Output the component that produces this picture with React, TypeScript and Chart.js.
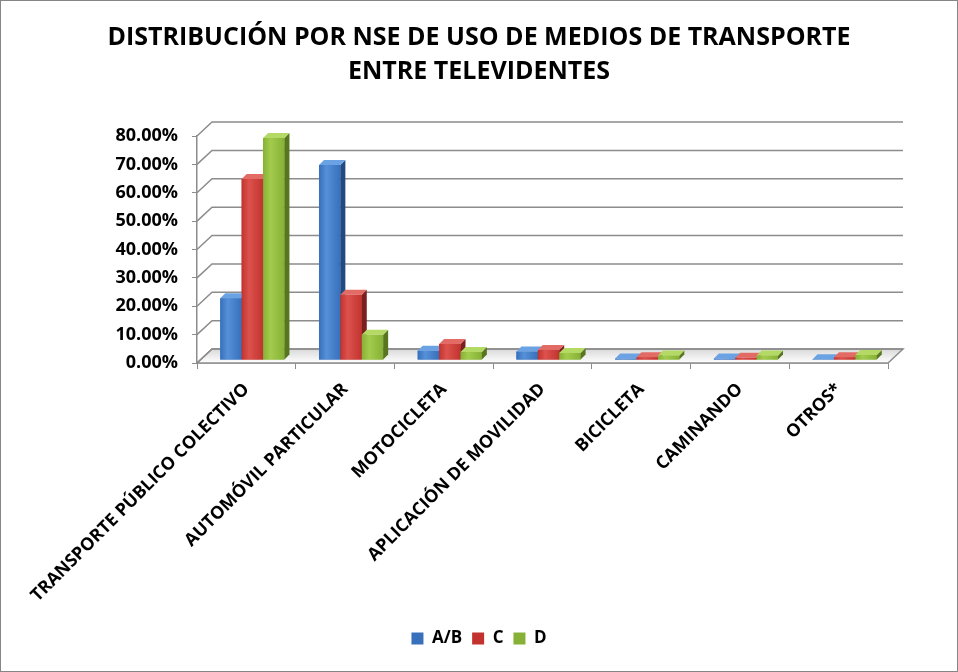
import React, { useEffect, useRef } from 'react';
import Chart from 'chart.js/auto';

const categories = [
  'TRANSPORTE PÚBLICO COLECTIVO',
  'AUTOMÓVIL PARTICULAR',
  'MOTOCICLETA',
  'APLICACIÓN DE MOVILIDAD',
  'BICICLETA',
  'CAMINANDO',
  'OTROS*',
];

const seriesNames = ['A/B', 'C', 'D'];
const valuesAB = [21.8, 68.7, 3.3, 3.0, 0.5, 0.5, 0.3];
const valuesC = [63.8, 23.0, 5.6, 3.5, 1.0, 0.8, 1.0];
const valuesD = [78.2, 8.9, 2.8, 2.5, 1.6, 1.6, 1.8];
const yTicks = [0, 10, 20, 30, 40, 50, 60, 70, 80];

// front, light, dark side, top cap
const palette = [
  { base: '#3870bb', light: '#5590d8', side: '#234a80', top: '#6aa2e4' },
  { base: '#c2332f', light: '#dc524d', side: '#7a1e1e', top: '#e36b66' },
  { base: '#86b136', light: '#a3cc4d', side: '#58761f', top: '#b4d964' },
];

const WALL_DX = 15;
const WALL_DY = 14;
const BAR_SHIFT_X = 6;
const BAR_SHIFT_Y = -3;
const BAR_D = 5;

const wallPlugin = {
  id: 'wall3d',
  beforeDatasetsDraw(chart: any) {
    const { ctx, chartArea, scales } = chart;
    const y = scales.y;
    const { left, right, bottom } = chartArea;
    ctx.save();
    // floor
    const grad = ctx.createLinearGradient(0, bottom - WALL_DY, 0, bottom);
    grad.addColorStop(0, '#d9d9d9');
    grad.addColorStop(1, '#ffffff');
    ctx.beginPath();
    ctx.moveTo(left, bottom);
    ctx.lineTo(right, bottom);
    ctx.lineTo(right + WALL_DX, bottom - WALL_DY);
    ctx.lineTo(left + WALL_DX, bottom - WALL_DY);
    ctx.closePath();
    ctx.fillStyle = grad;
    ctx.fill();
    ctx.strokeStyle = '#8c8c8c';
    ctx.lineWidth = 1.5;
    ctx.stroke();
    // gridlines on side wall and back wall
    yTicks.forEach((v) => {
      const py = y.getPixelForValue(v);
      ctx.beginPath();
      ctx.moveTo(left, py);
      ctx.lineTo(left + WALL_DX, py - WALL_DY);
      ctx.lineTo(right + WALL_DX, py - WALL_DY);
      ctx.stroke();
    });
    ctx.restore();
    ctx.save();
    ctx.translate(BAR_SHIFT_X, BAR_SHIFT_Y);
  },
  afterDatasetsDraw(chart: any) {
    const { ctx } = chart;
    chart.data.datasets.forEach((_ds: any, di: number) => {
      const meta = chart.getDatasetMeta(di);
      const col = palette[di];
      meta.data.forEach((bar: any) => {
        const { x, y, base, width } = bar.getProps(['x', 'y', 'base', 'width'], true);
        const l = x - width / 2;
        const r = x + width / 2;
        const h = base - y;
        // front face gradient
        const g = ctx.createLinearGradient(l, 0, r, 0);
        g.addColorStop(0, col.base);
        g.addColorStop(0.35, col.light);
        g.addColorStop(1, col.base);
        ctx.fillStyle = g;
        ctx.fillRect(l, y, width, h);
        // side face
        ctx.beginPath();
        ctx.moveTo(r, base);
        ctx.lineTo(r + BAR_D, base - BAR_D);
        ctx.lineTo(r + BAR_D, y - BAR_D);
        ctx.lineTo(r, y);
        ctx.closePath();
        ctx.fillStyle = col.side;
        ctx.fill();
        // top cap
        ctx.beginPath();
        ctx.moveTo(l, y);
        ctx.lineTo(r, y);
        ctx.lineTo(r + BAR_D, y - BAR_D);
        ctx.lineTo(l + BAR_D, y - BAR_D);
        ctx.closePath();
        ctx.fillStyle = col.top;
        ctx.fill();
      });
    });
    ctx.restore();
  },
};

const App: React.FC = () => {
  const chartRef = useRef<HTMLCanvasElement>(null);

  useEffect(() => {
    document.body.style.margin = '0';
    if (!chartRef.current) return;
    const chart = new Chart(chartRef.current, {
      type: 'bar',
      data: {
        labels: categories,
        datasets: [valuesAB, valuesC, valuesD].map((vals, i) => ({
          label: seriesNames[i],
          data: vals,
          backgroundColor: palette[i].base,
          borderWidth: 0,
          barPercentage: 1,
          categoryPercentage: 0.65,
        })),
      },
      options: {
        animation: false,
        responsive: false,
        layout: { padding: { top: 0, right: 69, bottom: 14, left: 69 } },
        plugins: {
          title: {
            display: true,
            text: ['DISTRIBUCIÓN POR NSE DE USO DE MEDIOS DE TRANSPORTE', 'ENTRE TELEVIDENTES'],
            color: '#000',
            font: { family: 'Open Sans', size: 25, weight: 'bold', lineHeight: 1.36 },
            padding: { top: 20, bottom: 47 },
          },
          legend: {
            position: 'bottom',
            labels: {
              color: '#000',
              font: { family: 'Open Sans', size: 17, weight: 'bold' },
              boxWidth: 12,
              boxHeight: 12,
              padding: 10,
            },
          },
          tooltip: { enabled: false },
        },
        scales: {
          x: {
            grid: { display: true, offset: true, drawOnChartArea: false, tickLength: 6, color: '#8c8c8c' },
            border: { display: true, color: '#8c8c8c', width: 1.5 },
            ticks: {
              autoSkip: false,
              minRotation: 45,
              maxRotation: 45,
              padding: 10,
              color: '#000',
              font: { family: 'Open Sans', size: 17.7, weight: 'bold' },
            },
            afterFit: (scale: any) => {
              scale.height = 257;
            },
          },
          y: {
            min: 0,
            max: 80,
            grid: { display: true, drawOnChartArea: false, tickLength: 5, color: '#8c8c8c' },
            border: { display: true, color: '#8c8c8c', width: 1.5 },
            ticks: {
              stepSize: 10,
              padding: 14,
              color: '#000',
              font: { family: 'Open Sans', size: 18, weight: 'bold' },
              callback: (v: any) => Number(v).toFixed(2) + '%',
            },
            afterFit: (scale: any) => {
              scale.width = 127;
            },
          },
        },
      },
      plugins: [wallPlugin],
    });
    return () => chart.destroy();
  }, []);

  return (
    <div style={{ width: 958, height: 672, position: 'relative', boxSizing: 'border-box', border: '1px solid #868686', background: '#fff' }}>
      <canvas ref={chartRef} width={956} height={670} style={{ display: 'block' }} />
    </div>
  );
};

export default App;
